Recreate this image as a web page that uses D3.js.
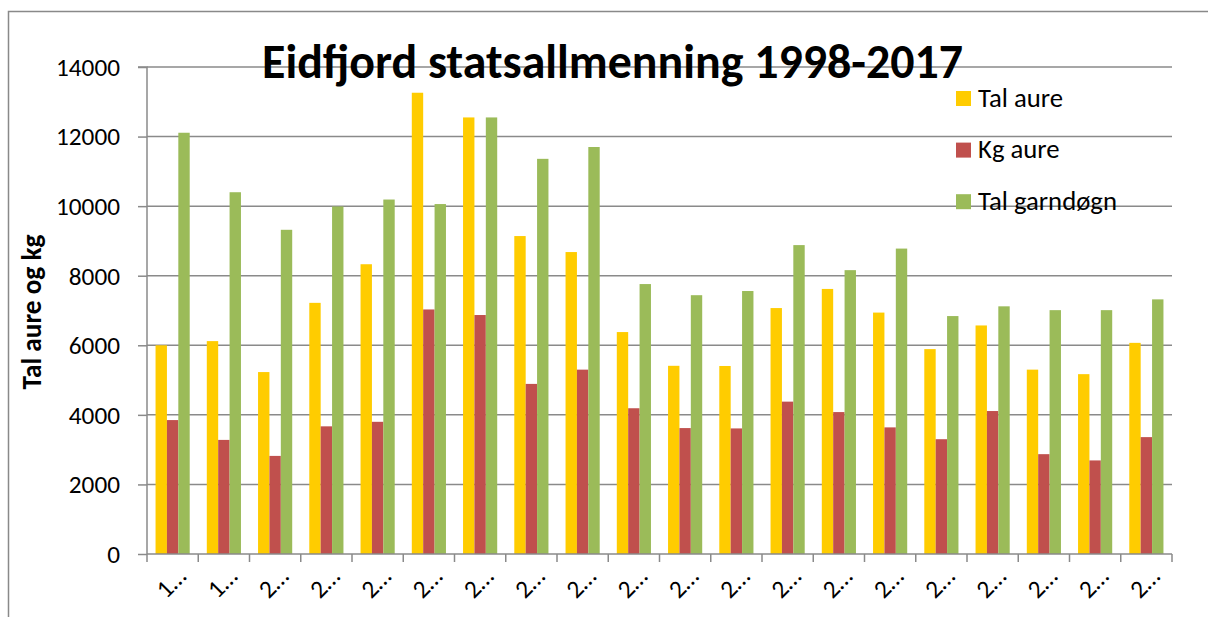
<!DOCTYPE html>
<html><head><meta charset="utf-8">
<script src="https://cdn.jsdelivr.net/npm/d3@7"></script>
<style>body{margin:0;background:#fff}svg{display:block}</style>
</head><body>
<svg id="c" width="1208" height="617"></svg>
<script>
const years = ["1998","1999","2000","2001","2002","2003","2004","2005","2006","2007","2008","2009","2010","2011","2012","2013","2014","2015","2016","2017"];
const xLabels = ["1…","1…","2…","2…","2…","2…","2…","2…","2…","2…","2…","2…","2…","2…","2…","2…","2…","2…","2…","2…"];
const talAure = [6000,6120,5230,7220,8330,13260,12550,9140,8680,6380,5410,5405,7070,7620,6940,5890,6570,5300,5170,6070];
const kgAure  = [3850,3280,2820,3670,3800,7030,6870,4890,5300,4190,3620,3610,4380,4080,3640,3300,4110,2870,2690,3360];
const talGarn = [12110,10400,9320,9990,10190,10060,12550,11360,11700,7760,7440,7560,8880,8160,8780,6840,7120,7010,7010,7320];
const seriesNames = ["Tal aure","Kg aure","Tal garndøgn"];
const yTicks = [0,2000,4000,6000,8000,10000,12000,14000];
const title = "Eidfjord statsallmenning 1998-2017";
const yTitle = "Tal aure og kg";

const colors = ["#FFCC00","#C0504D","#9BBB59"];
const FONT = "Carlito, Lato, 'Liberation Sans', sans-serif";
const svg = d3.select("#c");

function fit(sel, target){
  const n = sel.node();
  const fs = parseFloat(sel.attr("font-size"));
  const w = n.getComputedTextLength();
  sel.attr("font-size", (fs*target/w).toFixed(2));
}

// chart border
svg.append("rect").attr("x",8.5).attr("y",11.5).attr("width",1300).attr("height",700)
  .attr("fill","none").attr("stroke","#898989").attr("stroke-width",1.5);

const L=147, R=1172, T=67, B=554;
const x0 = d3.scaleBand().domain(years).range([L,R]).paddingInner(0).paddingOuter(0);
const x1 = d3.scaleBand().domain([0,1,2]).range([0,x0.bandwidth()]).paddingOuter(0.75).paddingInner(0);
const y = d3.scaleLinear().domain([0,14000]).range([B,T]);

// gridlines
svg.append("g").selectAll("line").data(yTicks.filter(d=>d>0)).join("line")
  .attr("x1",L).attr("x2",R).attr("y1",d=>y(d)).attr("y2",d=>y(d))
  .attr("stroke","#8a8a8a").attr("stroke-width",1.5);

// bars
const data = [talAure,kgAure,talGarn];
const g = svg.append("g");
years.forEach((yr,i)=>{
  data.forEach((s,k)=>{
    g.append("rect").attr("x",x0(yr)+x1(k)).attr("width",x1.bandwidth())
      .attr("y",y(s[i])).attr("height",y(0)-y(s[i])).attr("fill",colors[k]);
  });
});

// y axis
const ya = svg.append("g").attr("transform",`translate(${L},0)`)
  .call(d3.axisLeft(y).tickValues(yTicks).tickSize(9).tickPadding(18).tickFormat(d3.format("d")));
ya.select(".domain").attr("stroke","#8a8a8a").attr("stroke-width",1.5).attr("d",`M-9,${T}H0V${B}`);
ya.selectAll(".tick line").attr("stroke","#8a8a8a").attr("stroke-width",1.5);
ya.selectAll(".tick text").attr("font-family",FONT).attr("font-size",24).attr("fill","#000").attr("dy","0.33em");
fit(ya.select(".tick:last-of-type text"),64);
const tfs = ya.select(".tick:last-of-type text").attr("font-size");
ya.selectAll(".tick text").attr("font-size",tfs);

// x axis
const xa = svg.append("g").attr("transform",`translate(0,${B})`);
xa.append("line").attr("x1",L).attr("x2",R).attr("y1",0).attr("y2",0).attr("stroke","#8a8a8a").attr("stroke-width",1.5);
const bounds = years.map(d=>x0(d)).concat([R]);
xa.selectAll("line.tk").data(bounds).join("line").attr("class","tk")
  .attr("x1",d=>d).attr("x2",d=>d).attr("y1",0).attr("y2",8).attr("stroke","#8a8a8a").attr("stroke-width",1.5);
xa.selectAll("text").data(years).join("text")
  .attr("transform",d=>`translate(${x0(d)+x0.bandwidth()/2+15},${24}) rotate(-45)`)
  .attr("text-anchor","end").attr("font-family",FONT).attr("font-size",tfs)
  .text((d,i)=>xLabels[i]);

// title
const tt = svg.append("text").attr("x",(262+963)/2).attr("y",78).attr("text-anchor","middle")
  .attr("font-family",FONT).attr("font-weight","bold").attr("font-size",44).text(title);
fit(tt,701);

// y title
const yt = svg.append("text").attr("transform","translate(41,312) rotate(-90)").attr("text-anchor","middle")
  .attr("font-family",FONT).attr("font-weight","bold").attr("font-size",20).text(yTitle);
fit(yt,155);

// legend
const lg = svg.append("g");
seriesNames.forEach((n,k)=>{
  lg.append("rect").attr("x",956).attr("y",91+k*51.6).attr("width",15).attr("height",15).attr("fill",colors[k]);
  const t = lg.append("text").attr("x",978).attr("y",106.5+k*51.6).attr("font-family",FONT).attr("font-size",tfs).text(n);
  if(k===0) fit(t,85);
});
const lfs = lg.select("text").attr("font-size");
lg.selectAll("text").attr("font-size",lfs);
</script>
</body></html>
